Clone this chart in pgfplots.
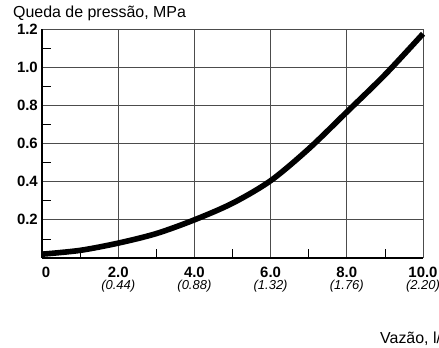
\documentclass[border=0pt]{standalone}
\usepackage{fontspec}
\setmainfont{Liberation Sans}
\usepackage{pgfplots}
\pgfplotsset{compat=1.18}
\newcommand{\sub}[1]{{\fontsize{13}{12}\selectfont\itshape #1}}
\begin{document}
\begin{tikzpicture}
\begin{axis}[
  scale only axis,
  width=381bp, height=229bp,
  at={(0,0)}, anchor=south west,
  xmin=0, xmax=10, ymin=0, ymax=1.2,
  axis lines=left,
  axis line style={-, black, line width=1.3pt},
  tick align=inside,
  xtick={0,2,4,6,8,10},
  ytick={0.2,0.4,0.6,0.8,1.0,1.2},
  minor xtick={1,3,5,7,9},
  minor ytick={0.1,0.3,0.5,0.7,0.9,1.1},
  major tick length=0pt,
  minor tick length=9bp,
  minor tick style={black, line width=0.8pt},
  grid=major,
  major grid style={black!70, line width=0.8pt},
  xticklabels={
    \makebox[0pt][l]{\textbf{0}},
    \textbf{2.0}\\\sub{(0.44)},
    \textbf{4.0}\\\sub{(0.88)},
    \textbf{6.0}\\\sub{(1.32)},
    \textbf{8.0}\\\sub{(1.76)},
    \textbf{10.0}\\\sub{(2.20)}},
  yticklabels={\textbf{0.2},\textbf{0.4},\textbf{0.6},\textbf{0.8},\textbf{1.0},\textbf{1.2}},
  xticklabel style={font=\fontsize{15}{12}\selectfont, align=center, inner sep=0pt, anchor=north, yshift=-9bp},
  yticklabel style={font=\fontsize{15}{15}\selectfont, inner sep=0pt, anchor=east, xshift=-4bp},
  clip=false,
]
\addplot[black, line width=5.6bp, smooth] coordinates {
  (0,0.02) (1,0.04) (2,0.078) (3,0.128) (4,0.2) (5,0.287) (6,0.405) (7,0.572) (8,0.765) (9,0.96) (10,1.175)
};
\end{axis}
\node[anchor=base west, inner sep=0pt, font=\fontsize{16}{19}\selectfont] at (-29bp,240bp) {Queda de pressão, MPa};
\node[anchor=base west, inner sep=0pt, font=\fontsize{16}{19}\selectfont] at (338bp,-85bp) {Vazão, l/min};
\pgfresetboundingbox
\path[use as bounding box] (-42bp,-90bp) rectangle (397bp,258bp);
\end{tikzpicture}
\end{document}
